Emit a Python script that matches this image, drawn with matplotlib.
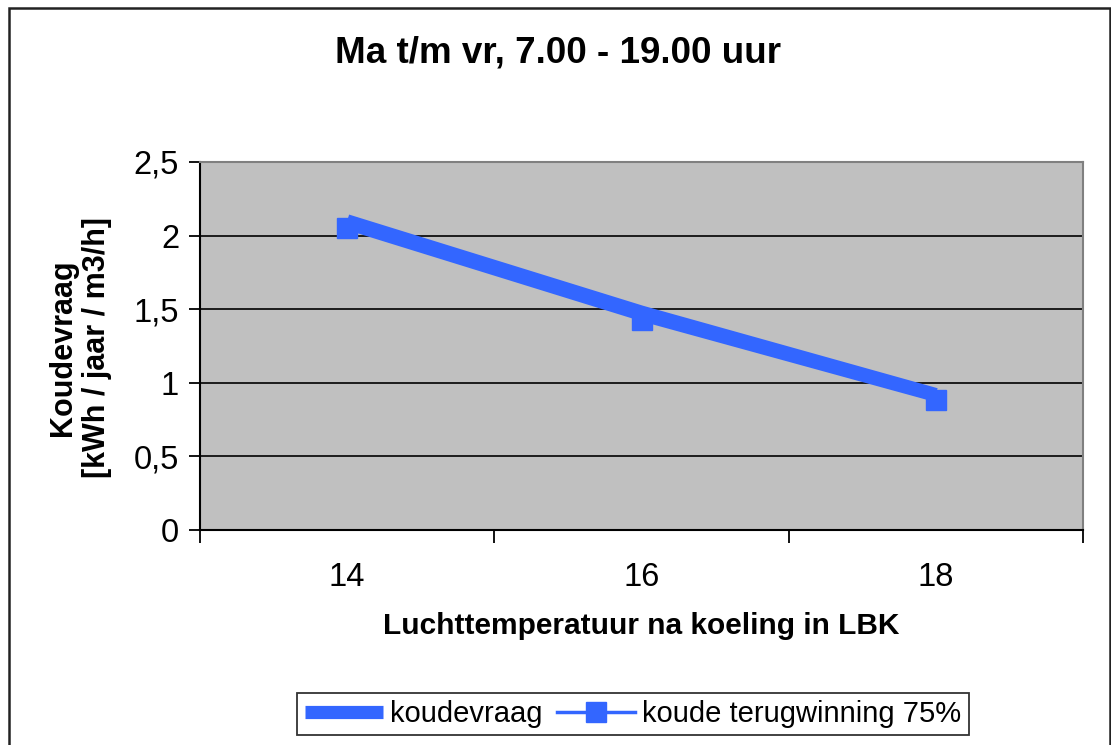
import matplotlib.pyplot as plt
from matplotlib.patches import Rectangle

plt.rcParams['font.family'] = ['Liberation Sans', 'DejaVu Sans']

# data
temps = [14, 16, 18]
koudevraag = [2.10, 1.48, 0.92]
terugwinning = [2.05, 1.43, 0.88]

y_ticks = [0, 0.5, 1, 1.5, 2, 2.5]
y_labels = ['0', '0,5', '1', '1,5', '2', '2,5']
x_labels = ['14', '16', '18']

blue = '#3366ff'

fig = plt.figure(figsize=(11.11, 7.45), dpi=100)
ax = fig.add_axes([200 / 1111, 1 - 530 / 745, 883 / 1111, 368 / 745])
ax.set_facecolor('#c0c0c0')

# outer chart border
fig.patches.append(Rectangle((9 / 1111, -0.05), 1101 / 1111, 1.05 - 8 / 745,
                             transform=fig.transFigure, fill=False,
                             edgecolor='#222222', linewidth=1.8))

ax.plot(temps, koudevraag, color=blue, linewidth=9.5, solid_capstyle='butt',
        label='koudevraag', zorder=3)
ax.plot(temps, terugwinning, color=blue, linewidth=2.5, marker='s',
        markersize=14, label='koude terugwinning 75%', zorder=4)

ax.set_xlim(13, 19)
ax.set_ylim(0, 2.5)

ax.set_yticks(y_ticks)
ax.set_yticklabels(y_labels, fontsize=23.5)
ax.yaxis.grid(True, color='black', linewidth=1.2)
ax.set_axisbelow(True)

ax.set_xticks([13, 15, 17, 19])
ax.set_xticklabels([])
ax.set_xticks(temps, minor=True)
ax.set_xticklabels(x_labels, minor=True, fontsize=23.5)
ax.tick_params(axis='x', which='major', length=9, width=1.3, direction='out')
ax.tick_params(axis='x', which='minor', length=0, pad=23)
ax.tick_params(axis='y', length=8, width=1.3, direction='out', pad=7)

for s in ['left', 'bottom']:
    ax.spines[s].set_color('black')
    ax.spines[s].set_linewidth(1.5)
for s in ['top', 'right']:
    ax.spines[s].set_color('#808080')
    ax.spines[s].set_linewidth(1.5)

fig.text(0.502, 0.929, 'Ma t/m vr, 7.00 - 19.00 uur', ha='center', va='center',
         fontsize=26.5, fontweight='bold')
fig.text(641 / 1111, 1 - 626 / 745, 'Luchttemperatuur na koeling in LBK', ha='center',
         va='center', fontsize=21.5, fontweight='bold')
fig.text(80 / 1111, 1 - 348 / 745, 'Koudevraag\n[kWh / jaar / m3/h]', ha='center',
         va='center', rotation=90, fontsize=22, fontweight='bold',
         linespacing=1.2, multialignment='center')

leg = fig.legend(loc='center', bbox_to_anchor=(633 / 1111, 1 - 714 / 745),
                 ncol=2, fontsize=21, frameon=True, fancybox=False,
                 handlelength=2.67, handletextpad=0.25, columnspacing=0.5,
                 borderpad=0.25, borderaxespad=0)
leg.get_frame().set_edgecolor('black')
leg.get_frame().set_linewidth(1.3)

fig.savefig('out.png', dpi=100)
